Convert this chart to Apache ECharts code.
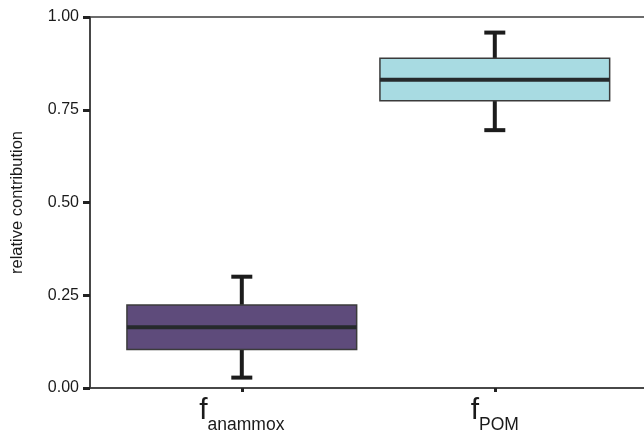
<!DOCTYPE html>
<html>
<head>
<meta charset="utf-8">
<script src="https://cdn.jsdelivr.net/npm/echarts@6/dist/echarts.min.js"></script>
<style>
  html, body { margin: 0; padding: 0; background: #fff; }
  #main { width: 644px; height: 433px; }
</style>
</head>
<body>
<div id="main"></div>
<script>
// box plot values
var categories = ['anammox', 'POM'];
var positions = [1, 2];
var whiskerLow = [0.028, 0.695];
var q1 = [0.104, 0.774];
var median = [0.164, 0.831];
var q3 = [0.224, 0.889];
var whiskerHigh = [0.300, 0.958];
var fills = ['#5e4b7b', '#a8dbe2'];

var boxData = positions.map(function (p, i) {
    return [p, whiskerLow[i], q1[i], median[i], q3[i], whiskerHigh[i], i];
});

var chart = echarts.init(document.getElementById('main'));

function renderBox(params, api) {
    var x = api.value(0);
    var idx = api.value(6);
    var lo = api.coord([x, api.value(1)]);
    var b1 = api.coord([x, api.value(2)]);
    var md = api.coord([x, api.value(3)]);
    var b3 = api.coord([x, api.value(4)]);
    var hi = api.coord([x, api.value(5)]);
    var halfW = api.size([0.908, 0])[0] / 2;
    var capW = api.size([0.083, 0])[0] / 2;
    var cx = lo[0];
    var whisk = { stroke: '#1c1c1c', lineWidth: 4 };
    return {
        type: 'group',
        children: [
            { type: 'line', shape: { x1: cx, y1: b3[1], x2: cx, y2: hi[1] }, style: whisk },
            { type: 'line', shape: { x1: cx, y1: b1[1], x2: cx, y2: lo[1] }, style: whisk },
            { type: 'line', shape: { x1: cx - capW, y1: hi[1], x2: cx + capW, y2: hi[1] }, style: whisk },
            { type: 'line', shape: { x1: cx - capW, y1: lo[1], x2: cx + capW, y2: lo[1] }, style: whisk },
            {
                type: 'rect',
                shape: { x: cx - halfW, y: b3[1], width: halfW * 2, height: b1[1] - b3[1] },
                style: { fill: fills[idx], stroke: '#3b3b3b', lineWidth: 1.5 }
            },
            {
                type: 'line',
                shape: { x1: cx - halfW, y1: md[1], x2: cx + halfW, y2: md[1] },
                style: { stroke: '#262a2c', lineWidth: 4 }
            }
        ]
    };
}

var option = {
    backgroundColor: '#fff',
    animation: false,
    grid: {
        left: 90,
        top: 17,
        width: 556.6,
        bottom: 45,
        outerBoundsMode: 'none',
        containLabel: false,
        show: true,
        borderColor: '#3c3c3c',
        borderWidth: 1.5,
        backgroundColor: '#fff'
    },
    xAxis: {
        type: 'value',
        min: 0.4,
        max: 2.6,
        splitLine: { show: false },
        axisLine: { show: true, lineStyle: { color: '#3c3c3c', width: 1.5 } },
        axisTick: {
            show: true,
            customValues: positions,
            length: 4,
            lineStyle: { color: '#222', width: 3 }
        },
        axisLabel: {
            customValues: positions,
            margin: 8,
            formatter: function (v) {
                var i = positions.indexOf(v);
                return '{f|f}{s|' + categories[i] + '}';
            },
            rich: {
                f: { fontFamily: 'Liberation Sans', fontSize: 30, color: '#1a1a1a', lineHeight: 30, verticalAlign: 'top' },
                s: { fontFamily: 'Liberation Sans', fontSize: 17.5, color: '#1a1a1a', padding: [20, 0, 0, 0], verticalAlign: 'bottom' }
            }
        }
    },
    yAxis: {
        type: 'value',
        min: 0,
        max: 1,
        interval: 0.25,
        name: 'relative contribution',
        nameLocation: 'middle',
        nameGap: 64,
        nameTextStyle: { fontFamily: 'Liberation Sans', fontSize: 16.5, color: '#1a1a1a' },
        splitLine: { show: false },
        axisLine: { show: true, lineStyle: { color: '#3c3c3c', width: 1.5 } },
        axisTick: { show: true, length: 7, lineStyle: { color: '#222', width: 3 } },
        axisLabel: {
            margin: 11,
            fontFamily: 'Liberation Sans',
            fontSize: 16,
            color: '#1a1a1a',
            formatter: function (v) { return v.toFixed(2); }
        }
    },
    series: [{
        type: 'custom',
        renderItem: renderBox,
        encode: { x: 0, y: [1, 2, 3, 4, 5] },
        data: boxData,
        clip: false
    }]
};

chart.setOption(option);
</script>
</body>
</html>
